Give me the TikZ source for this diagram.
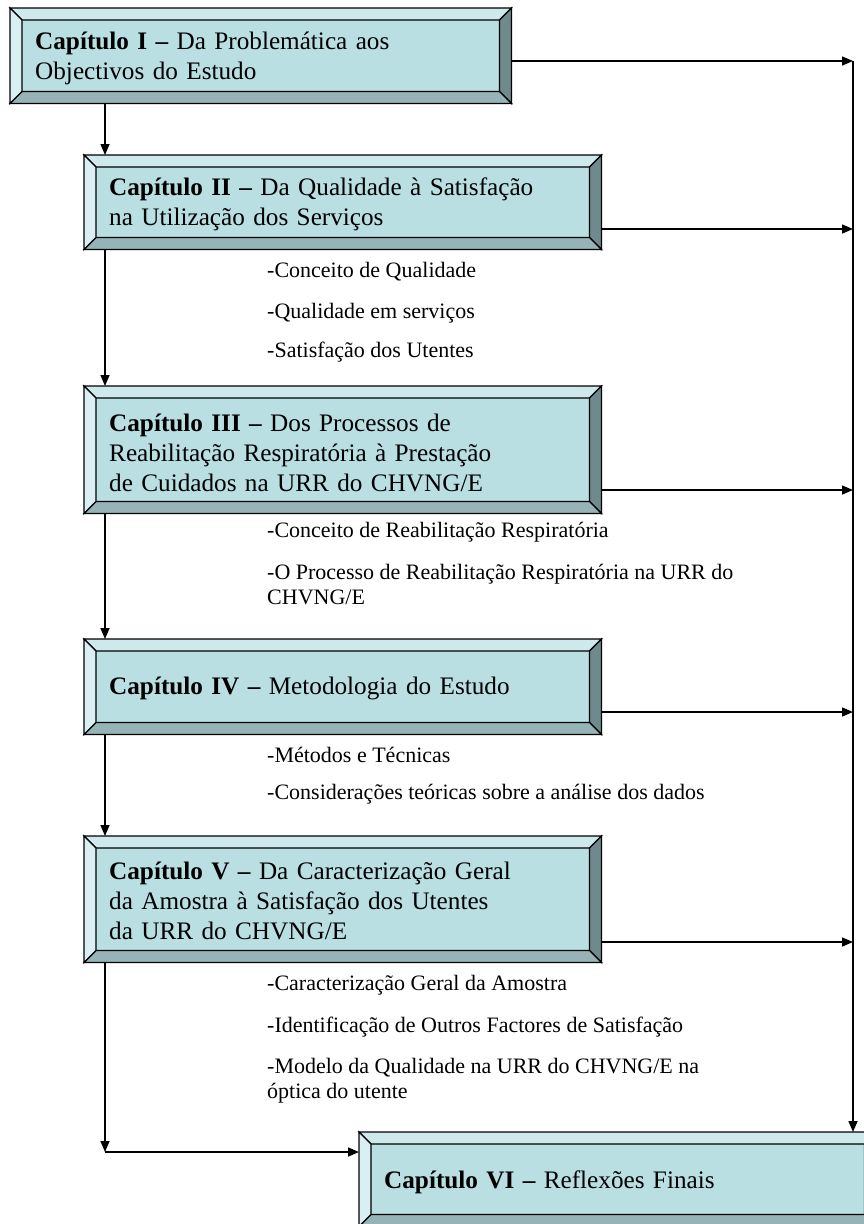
\documentclass[tikz,border=0pt]{standalone}
\usepackage{fontspec}
\setmainfont{Liberation Serif}
\usetikzlibrary{arrows.meta,calc}
\definecolor{face}{RGB}{185,223,227}
\definecolor{btop}{RGB}{205,233,236}
\definecolor{bleft}{RGB}{218,239,241}
\definecolor{bright}{RGB}{110,138,140}
\definecolor{bbottom}{RGB}{150,180,183}
\newcommand\ttlfont{\fontsize{25.2pt}{30pt}\selectfont}
\newcommand\lstfont{\fontsize{22pt}{25.3pt}\selectfont}
\newcommand\bevelbox[1]{%
  \path (#1.north west) coordinate (p1) (#1.north east) coordinate (p2)
        (#1.south east) coordinate (p3) (#1.south west) coordinate (p4);
  \path ([shift={(12pt,-12pt)}]p1) coordinate (q1) ([shift={(-12pt,-12pt)}]p2) coordinate (q2)
        ([shift={(-12pt,12pt)}]p3) coordinate (q3) ([shift={(12pt,12pt)}]p4) coordinate (q4);
  \filldraw[bevline, fill=btop] (p1) -- (p2) -- (q2) -- (q1) -- cycle;
  \filldraw[bevline, fill=bright] (p2) -- (p3) -- (q3) -- (q2) -- cycle;
  \filldraw[bevline, fill=bbottom] (p3) -- (p4) -- (q4) -- (q3) -- cycle;
  \filldraw[bevline, fill=bleft] (p4) -- (p1) -- (q1) -- (q4) -- cycle;
}
\tikzset{
  bevline/.style={draw=black, line width=1.2pt, line join=miter},
  chap/.style={fill=face, anchor=north west, inner sep=0pt, minimum width=517pt},
  ttl/.style={align=left, inner sep=0pt, font=\ttlfont, text width=467pt},
  sub/.style={anchor=west, align=left, inner sep=0pt, font=\lstfont},
  arr/.style={line width=1.5pt, -{Triangle[length=11pt,width=9pt]}}
}
\begin{document}
\begin{tikzpicture}[x=1pt,y=-1pt]
\useasboundingbox (0,0) rectangle (864,1224);
\clip (0,0) rectangle (864,1224);
% boxes
\node[chap, minimum width=501pt, minimum height=95pt] (c1) at (10,8) {};
\bevelbox{c1}
\node[ttl, text width=451pt] (c1t) at ([yshift=-3pt]c1.center)
  {\textbf{Capítulo I –} Da Problemática aos\\Objectivos do Estudo};
\node[chap, minimum height=94pt] (c2) at (84,155) {};
\bevelbox{c2}
\node[ttl] (c2t) at ([yshift=-2pt]c2.center)
  {\textbf{Capítulo II –} Da Qualidade à Satisfação\\na Utilização dos Serviços};
\node[chap, minimum height=127pt] (c3) at (84,386) {};
\bevelbox{c3}
\node[ttl] (c3t) at ([yshift=-3pt]c3.center)
  {\textbf{Capítulo III –} Dos Processos de\\Reabilitação Respiratória à Prestação\\de Cuidados na URR do CHVNG/E};
\node[chap, minimum height=95pt] (c4) at (84,639) {};
\bevelbox{c4}
\node[ttl] (c4t) at ([yshift=-2pt]c4.center)
  {\textbf{Capítulo IV –} Metodologia do Estudo};
\node[chap, minimum height=126pt] (c5) at (84,836) {};
\bevelbox{c5}
\node[ttl] (c5t) at ([yshift=-2pt]c5.center)
  {\textbf{Capítulo V –} Da Caracterização Geral\\da Amostra à Satisfação dos Utentes\\da URR do CHVNG/E};
\node[chap, minimum height=94pt] (c6) at (359,1132) {};
\bevelbox{c6}
\node[ttl] (c6t) at ([yshift=-3pt]c6.center)
  {\textbf{Capítulo VI –} Reflexões Finais};
% sub-items
\node[sub] (s21) at (267,272) {-Conceito de Qualidade};
\node[sub] (s22) at (267,313) {-Qualidade em serviços};
\node[sub] (s23) at (267,352) {-Satisfação dos Utentes};
\node[sub] (s31) at (267,532) {-Conceito de Reabilitação Respiratória};
\node[sub] (s32) at (267,584.5) {-O Processo de Reabilitação Respiratória na URR do\\CHVNG/E};
\node[sub] (s41) at (267,755) {-Métodos e Técnicas};
\node[sub] (s42) at (267,794) {-Considerações teóricas sobre a análise dos dados};
\node[sub] (s51) at (267,985) {-Caracterização Geral da Amostra};
\node[sub] (s52) at (267,1027) {-Identificação de Outros Factores de Satisfação};
\node[sub] (s53) at (267,1080.5) {-Modelo da Qualidade na URR do CHVNG/E na\\óptica do utente};
% connector coordinates
\coordinate (lx) at (105,0);
\coordinate (k) at (105,1152);
\coordinate (b1) at (853,61);
\coordinate (b2) at (853,229);
\coordinate (b3) at (853,490);
\coordinate (b4) at (853,712);
\coordinate (b5) at (853,942);
% left chain
\draw[arr] (c1.south -| lx) -- (c2.north -| lx);
\draw[arr] (c2.south -| lx) -- (c3.north -| lx);
\draw[arr] (c3.south -| lx) -- (c4.north -| lx);
\draw[arr] (c4.south -| lx) -- (c5.north -| lx);
\draw[arr] (c5.south -| lx) -- (k);
\draw[arr] (k) -- (k -| c6.west);
% right bus
\draw[arr] (c1.east |- b1) -- (b1);
\draw[arr] (c2.east |- b2) -- (b2);
\draw[arr] (c3.east |- b3) -- (b3);
\draw[arr] (c4.east |- b4) -- (b4);
\draw[arr] (c5.east |- b5) -- (b5);
\draw[arr] (b1) -- (b1 |- c6.north);
\end{tikzpicture}
\end{document}
